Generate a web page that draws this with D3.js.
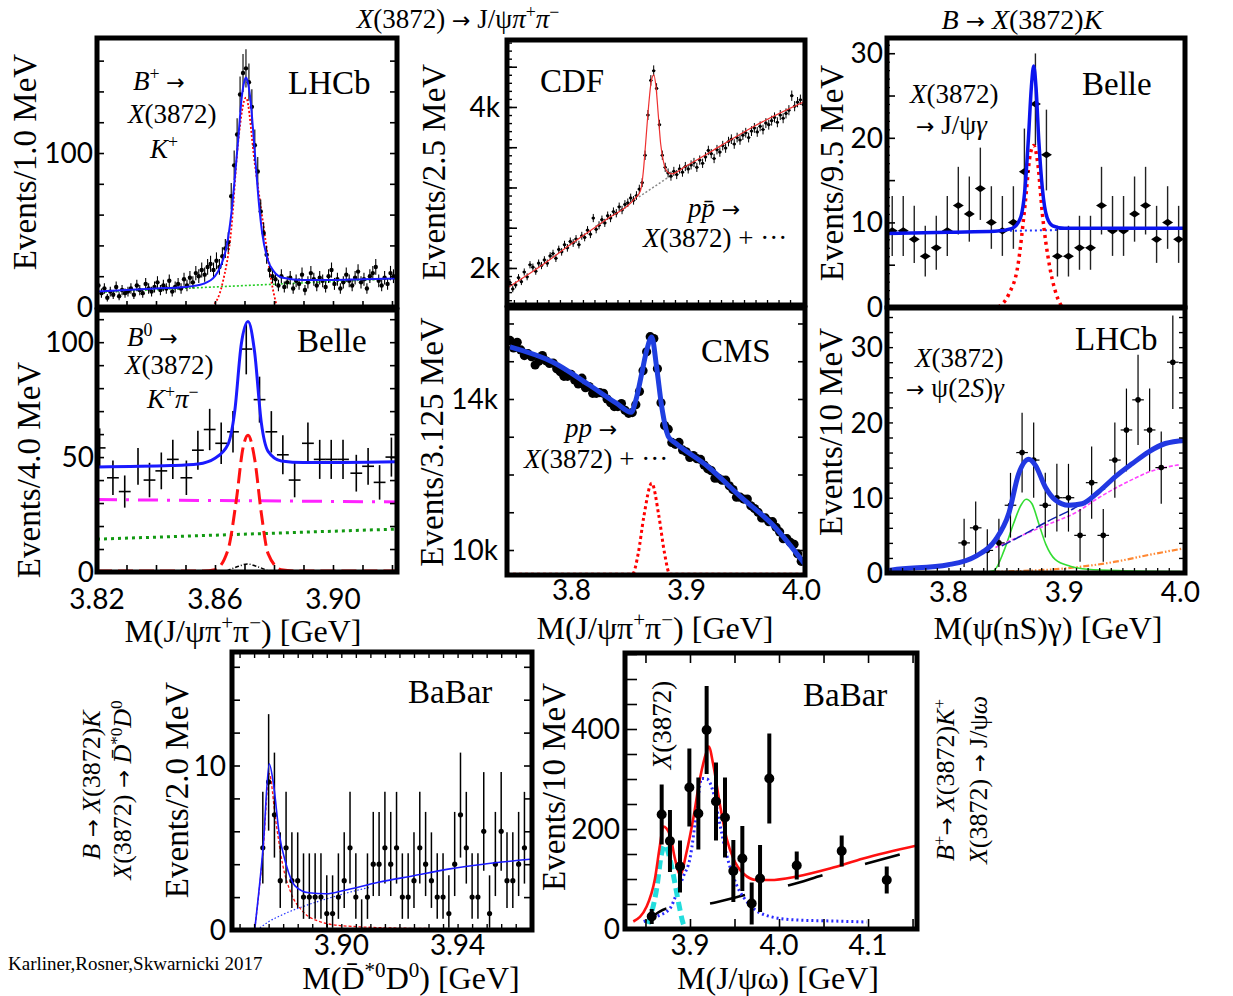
<!DOCTYPE html>
<html lang="en">
<head>
<meta charset="utf-8">
<title>X(3872) signals</title>
<script src="https://d3js.org/d3.v7.min.js"></script>
<style>
  body { margin: 0; background: #fff; }
  .serif { font-family: "Liberation Serif", "Times New Roman", serif; white-space: pre; }
  .tl { font-family: Lato, "Noto Sans", sans-serif; font-size: 28px; }
</style>
</head>
<body>
<script>
// ---------------- data ----------------

// LHCb, B+ -> X(3872) K+, 1 MeV bins
var lhcbStart = 3.8205, lhcbWidth = 0.001;
var lhcbCounts = [14, 9, 12, 6, 10, 8, 13, 7, 11, 9,
  10, 12, 8, 14, 11, 9, 15, 12, 10, 13,
  16, 11, 14, 12, 17, 10, 13, 15, 12, 18,
  14, 19, 16, 22, 20, 24, 21, 26, 28, 24,
  30, 26, 33, 38, 42, 72, 92, 112, 138, 152,
  155, 146, 130, 105, 88, 62, 48, 34, 24, 20,
  18, 14, 20, 13, 16, 19, 12, 17, 15, 21,
  11, 16, 22, 18, 14, 19, 17, 13, 20, 24,
  15, 18, 12, 16, 21, 17, 14, 19, 23, 16,
  18, 12, 20, 22, 26, 17, 14, 19, 15, 22, 20];
var lhcbFit = [[3.820,10],[3.830,11],[3.840,12],[3.850,13],[3.856,15],[3.860,20],[3.862,27],[3.864,40],[3.8655,60],
  [3.867,90],[3.868,112],[3.869,135],[3.870,147],[3.8705,149],[3.871,147],[3.872,135],[3.873,113],[3.874,88],
  [3.875,65],[3.876,48],[3.878,30],[3.880,23],[3.883,19],[3.890,17.5],[3.900,17.5],[3.910,18],[3.922,18.5]];
var lhcbSignal = [[3.859,0],[3.8625,15],[3.8655,50],[3.8678,106],[3.8705,136],[3.8735,93],[3.877,45],[3.879,18],[3.881,0]];
var lhcbBkg = [[3.82,9.5],[3.922,18.5]];

// Belle, B0 -> X(3872) K+ pi-, 4 MeV bins
var belle0Mass = [3.8209,3.8254,3.8294,3.8339,3.8378,3.8418,3.8457,3.8503,3.8542,3.8582,3.8621,3.8661,3.8706,
  3.8751,3.8791,3.8830,3.8870,3.8915,3.8955,3.8994,3.9034,3.9079,3.9119,3.9158,3.9198];
var belle0Counts = [54, 41, 35, 46, 40, 44, 49, 41, 53, 62, 56, 61, 97, 75, 61, 51, 40, 56, 49, 49, 49, 43, 46, 39, 50];
var belle0Err = [8.5, 7.5, 7, 8, 7.5, 8, 8.5, 7.5, 8.5, 9, 9, 9, 11, 10, 9, 8.5, 7.5, 9, 8.5, 8.5, 8.5, 8, 8, 7.5, 8.5];
var belle0Fit = [[3.82,45.7],[3.845,46.3],[3.8542,47],[3.860,49.5],[3.8644,55.5],[3.8667,70],[3.8689,99],[3.8712,109],
  [3.8734,96],[3.8757,65],[3.878,52.5],[3.8825,48.3],[3.89,47.6],[3.922,48]];
var belle0Signal = [[3.82,0.4],[3.856,0.4],[3.860,1],[3.8644,9.6],[3.8672,31],[3.8695,54],[3.8712,59.5],[3.8735,48.7],
  [3.8757,25.6],[3.878,8],[3.8825,1],[3.888,0.4],[3.922,0.4]];
var belle0Comb = [[3.82,31.5],[3.922,30.5]];
var belle0Lin = [[3.82,14.3],[3.922,18.7]];
var belle0Peak = [[3.864,0.5],[3.868,2.5],[3.871,3.5],[3.874,2.5],[3.878,0.5]];

// CDF, p pbar -> X(3872) + ..., 2.5 MeV bins
var cdfStart = 3.7465, cdfWidth = 0.0025;
var cdfCounts = [1820,1740,1790,1880,1830,1950,1890,2040,2010,1960,2060,2030,2100,2060,2150,2180,2120,2230,2200,2290,2250,2330,
  2310,2360,2290,2400,2380,2470,2420,2620,2480,2530,2600,2560,2650,2620,2700,2680,2760,2720,2790,
  2810,2870,2840,2900,2980,3060,
  3400,3900,4330,4450,4230,3780,3400,3250,3180,
  3140,3200,3160,3230,3190,3260,3230,3280,3310,3250,3340,3300,3380,3460,3420,3360,3470,3440,3520,3490,
  3570,3600,3540,3620,3590,3650,3680,3620,3700,3740,3690,3760,3720,3800,3780,3830,3870,3810,3900,3860,
  3920,3960,4140,4010,4060,4090,4030];
var cdfFit = [[3.744,1750],[3.775,2040],[3.80,2300],[3.83,2600],[3.855,2860],[3.860,2960],[3.8625,3200],[3.8645,3550],
  [3.867,4000],[3.8695,4330],[3.8716,4400],[3.8735,4250],[3.8755,3900],[3.8775,3550],[3.880,3320],[3.883,3200],
  [3.887,3170],[3.90,3270],[3.93,3520],[3.96,3770],[4.003,4070]];
var cdfBkg = [[3.8586,2882],[3.8872,3155]];

// CMS, pp -> X(3872) + ..., 3.125 MeV bins
var cmsStart = 3.7466, cmsWidth = 0.003125;
var cmsCounts = [15550, 15350, 15500, 15300, 15150, 15200, 15120, 14900, 15000, 15150,
  15010, 14940, 14950, 14800, 14720, 14600, 14600, 14650, 14500, 14400,
  14550, 14300, 14330, 14150, 14150, 14170, 14150, 14000, 13900, 13800,
  13800, 13880, 13700, 13620, 13640, 13850, 14200, 14750, 15250, 15650,
  15600, 14800, 13900, 13300, 13200, 12850, 12800, 12850, 12650, 12600,
  12450, 12500, 12420, 12400, 12250, 12150, 12100, 11900, 11900, 11850,
  11850, 11700, 11600, 11400, 11400, 11350, 11350, 11170, 11100, 11000,
  10850, 10850, 10750, 10750, 10600, 10480, 10300, 10300, 10200, 10150,
  9900, 9700];
var cmsFit = [[3.7466,15380],[3.7836,14980],[3.8155,14370],[3.839,13890],[3.852,13650],[3.856,13970],[3.8612,14690],
  [3.8655,15300],[3.8698,15640],[3.874,14850],[3.8785,13790],[3.8845,12990],[3.8905,12830],[3.919,12200],
  [3.9474,11400],[3.9767,10610],[4.003,9620]];
var cmsSignal = [[3.744,9360],[3.853,9360],[3.858,9900],[3.863,10900],[3.8698,11770],[3.876,10900],[3.881,9900],[3.8855,9360],[4.003,9360]];

// Belle, X(3872) -> J/psi gamma, 9.5 MeV bins
var belleGStart = 3.7515, belleGWidth = 0.0095;
var belleGCounts = [9, 9, 8, 6, 7, 9, 12, 11, 14, 10, 9, 10, 16, 24, 18, 6, 6, 7, 7, 12, 9, 9, 11, 12, 8, 10, 8];
var belleGFit = [[3.747,8.7],[3.80,8.85],[3.84,8.95],[3.855,9.3],[3.862,10.5],[3.866,14],[3.869,20],[3.8715,26],
  [3.8735,28.5],[3.8755,26],[3.878,19.5],[3.881,14],[3.885,10.6],[3.89,9.6],[3.90,9.3],[4.004,9.3]];
var belleGBkg = [[3.853,9.0],[3.895,9.1]];
var belleGSignal = [[3.843,0],[3.852,1.5],[3.860,5],[3.866,12],[3.8705,18],[3.8735,19.1],[3.877,17],[3.881,11],
  [3.887,5],[3.893,1.5],[3.898,0]];

// LHCb, X(3872) -> psi(2S) gamma, 10 MeV bins
var lhcbGStart = 3.8135, lhcbGWidth = 0.010;
var lhcbGCounts = [4, 6, 3, 4, 9, 16, 15, 9, 10, 10, 5, 12, 5, 15, 19, 23, 19, 14, 28];
var lhcbGErr = [3.2, 3.5, 2.8, 3.2, 4.3, 5.3, 5.0, 4.3, 4.5, 4.5, 3.5, 4.8, 3.5, 5.0, 5.5, 6.0, 5.5, 4.8, 6.2];
var lhcbGFit = [[3.747,0.3],[3.7515,0.4],[3.80,1.1],[3.8233,2.2],[3.8405,4.4],[3.852,7.9],[3.8606,13.2],[3.8693,15.1],
  [3.875,14.3],[3.8836,11.4],[3.8922,9.7],[3.9037,9.0],[3.9152,9.2],[3.9296,10.8],[3.944,12.8],[3.9583,14.5],
  [3.9727,16.1],[3.987,17.2],[4.004,17.6]];
var lhcbGTot = [[3.846,3.6],[3.866,5.2],[3.886,6.9],[3.906,8.4],[3.924,10.0],[3.935,11.2]];
var lhcbGBkg = [[3.8405,3.4],[3.8636,5.0],[3.8865,6.5],[3.9095,8.0],[3.9296,10.0],[3.9583,12.4],[3.9727,13.4],[4.0,14.4]];
var lhcbGSignal = [[3.747,0.1],[3.83,0.1],[3.839,0.3],[3.848,3],[3.856,6.5],[3.8625,9.0],[3.867,9.8],[3.872,9.2],
  [3.878,6.5],[3.884,3.8],[3.892,1.8],[3.905,0.9],[3.92,0.5],[3.95,0.3],[4.0,0.2]];
var lhcbGRefl = [[3.80,0.05],[3.85,0.2],[3.90,0.6],[3.944,1.5],[3.9727,2.4],[4.004,3.3]];

// BaBar, X(3872) -> D*0 D0bar, 2 MeV bins
var babarDStart = 3.873, babarDWidth = 0.002;
var babarDCounts = [5, 9, 7, 3, 5, 3, 3, 2, 2, 2, 2, 1, 1, 2, 3, 5, 2, 0, 2, 4, 4, 5, 4, 5, 2, 2, 3, 5, 4, 3,
  2, 2, 1, 4, 7, 5, 2, 2, 6, 1, 4, 6, 3, 3, 4, 5];
var babarDFit = [[3.8702,0],[3.8732,5.25],[3.8752,10.1],[3.8768,8.7],[3.8786,5.9],[3.881,4.0],[3.884,2.7],[3.8888,2.26],
  [3.8948,2.2],[3.9008,2.4],[3.9128,2.9],[3.9248,3.3],[3.9368,3.7],[3.9488,4.0],[3.965,4.3]];
var babarDSignal = [[3.8702,0],[3.8732,5.05],[3.8752,9.5],[3.8774,6.7],[3.8798,4.0],[3.8828,2.2],[3.8864,1.2],
  [3.8912,0.6],[3.9008,0.25],[3.9248,0.1],[3.965,0.05]];
var babarDBkg = [[3.871,0],[3.875,0.5],[3.880,0.95],[3.888,1.5],[3.896,1.95],[3.904,2.35],[3.91,2.6]];

// BaBar, X(3872) -> J/psi omega
var babarWMass = [3.857, 3.8682, 3.8775, 3.8888, 3.8993, 3.9094, 3.9187, 3.9292, 3.9393, 3.9487, 3.9588, 3.9693,
  3.9787, 3.9891, 4.0199, 4.0704, 4.121];
var babarWCounts = [25, 229, 176, 125, 283, 231, 398, 255, 223, 116, 141, 51, 101, 301, 127, 156, 98];
var babarWErr = [15, 60, 62, 52, 78, 72, 88, 78, 80, 62, 65, 42, 67, 90, 28, 31, 27];
var babarWFit = [[3.8363,15],[3.8513,45],[3.8607,101],[3.8663,168],[3.870,205],[3.8775,188],[3.8831,141],[3.8888,108],
  [3.8963,155],[3.9037,221],[3.9112,301],[3.9187,355],[3.921,365],[3.9262,328],[3.9337,248],[3.9412,181],
  [3.9487,141],[3.9599,111],[3.975,98],[3.9899,98],[4.0199,105],[4.0573,121],[4.0947,141],[4.155,167]];
var babarWX = [[3.853,10],[3.8625,80],[3.868,150],[3.8718,168],[3.8775,140],[3.8813,108],[3.8869,55],[3.8925,10],[3.895,0]];
var babarWY = [[3.848,15],[3.8625,25],[3.8775,41],[3.885,71],[3.8925,105],[3.90,141],[3.9075,235],[3.913,301],
  [3.919,300],[3.927,268],[3.9337,208],[3.9412,148],[3.9524,88],[3.9674,48],[3.9899,25],[4.0199,18],[4.06,16],[4.0984,14]];
var babarWBkg = [[3.851,15],[3.8738,41],[3.9225,51],[3.9637,69],[4.0124,88],[4.0517,109],[4.0985,131],[4.1397,151]];

// tick labels
var ticksP1Y = [[0,"0"],[100,"100"]];
var ticksP2Y = [[0,"0"],[50,"50"],[100,"100"]];
var ticksP2X = [[3.82,"3.82"],[3.86,"3.86"],[3.90,"3.90"]];
var ticksP3Y = [[2000,"2k"],[4000,"4k"]];
var ticksP4Y = [[10000,"10k"],[14000,"14k"]];
var ticksP4X = [[3.8,"3.8"],[3.9,"3.9"],[4.0,"4.0"]];
var ticksP5Y = [[0,"0"],[10,"10"],[20,"20"],[30,"30"]];
var ticksP6Y = [[0,"0"],[10,"10"],[20,"20"],[30,"30"]];
var ticksP6X = [[3.8,"3.8"],[3.9,"3.9"],[4.0,"4.0"]];
var ticksP7Y = [[0,"0"],[10,"10"]];
var ticksP7X = [[3.90,"3.90"],[3.94,"3.94"]];
var ticksP8Y = [[0,"0"],[200,"200"],[400,"400"]];
var ticksP8X = [[3.9,"3.9"],[4.0,"4.0"],[4.1,"4.1"]];

// ---------------- drawing ----------------
var svg = d3.select("body").append("svg").attr("width", 1233).attr("height", 996);

function makePanel(id, xDom, xRange, yDom, yRange) {
  var p = {
    x: d3.scaleLinear().domain(xDom).range(xRange),
    y: d3.scaleLinear().domain(yDom).range(yRange),
    x0: xRange[0], x1: xRange[1], y0: yRange[0], y1: yRange[1]
  };
  p.g = svg.append("g");
  svg.append("clipPath").attr("id", "clip-" + id).append("rect")
    .attr("x", p.x0).attr("y", p.y1).attr("width", p.x1 - p.x0).attr("height", p.y0 - p.y1);
  p.plot = p.g.append("g").attr("clip-path", "url(#clip-" + id + ")");
  return p;
}

function curve(p, pts, color, width, dash, offset) {
  p.plot.append("path").datum(pts)
    .attr("d", d3.line().x(function(d) { return p.x(d[0]); }).y(function(d) { return p.y(d[1]); }).curve(d3.curveMonotoneX))
    .attr("fill", "none").attr("stroke", color).attr("stroke-width", width)
    .attr("stroke-dasharray", dash || null).attr("stroke-dashoffset", offset || null)
    .attr("stroke-linejoin", "round");
}

function points(p, pts, o) {
  var gp = p.plot.append("g");
  gp.selectAll("line.ev").data(pts).join("line").attr("class", "ev")
    .attr("x1", function(d) { return p.x(d.m); }).attr("x2", function(d) { return p.x(d.m); })
    .attr("y1", function(d) { return p.y(d.v - d.lo); }).attr("y2", function(d) { return p.y(d.v + d.hi); })
    .attr("stroke", o.ec || "#000").attr("stroke-width", o.ew || 1);
  if (o.hw) {
    gp.selectAll("line.eh").data(pts).join("line").attr("class", "eh")
      .attr("x1", function(d) { return p.x(d.m - o.hw); }).attr("x2", function(d) { return p.x(d.m + o.hw); })
      .attr("y1", function(d) { return p.y(d.v); }).attr("y2", function(d) { return p.y(d.v); })
      .attr("stroke", o.ec || "#000").attr("stroke-width", o.ew || 1);
  }
  if (o.diamond) {
    gp.selectAll("path.mk").data(pts).join("path").attr("class", "mk")
      .attr("d", "M-5.5,0L0,-3.6L5.5,0L0,3.6Z")
      .attr("transform", function(d) { return "translate(" + p.x(d.m) + "," + p.y(d.v) + ")"; })
      .attr("fill", "#000");
  } else if (o.r) {
    gp.selectAll("circle.mk").data(pts).join("circle").attr("class", "mk")
      .attr("cx", function(d) { return p.x(d.m); }).attr("cy", function(d) { return p.y(d.v); })
      .attr("r", o.r).attr("fill", "#000");
  }
}

function ticks(p, side, vals, len, w) {
  var ax, tr;
  if (side === "left") { ax = d3.axisLeft(p.y); tr = "translate(" + p.x0 + ",0)"; }
  if (side === "right") { ax = d3.axisRight(p.y); tr = "translate(" + p.x1 + ",0)"; }
  if (side === "bottom") { ax = d3.axisBottom(p.x); tr = "translate(0," + p.y0 + ")"; }
  if (side === "top") { ax = d3.axisTop(p.x); tr = "translate(0," + p.y1 + ")"; }
  p.g.append("g").attr("transform", tr)
    .call(ax.tickValues(vals).tickSize(-len).tickFormat(""))
    .call(function(a) {
      a.select(".domain").remove();
      a.selectAll("line").attr("stroke", "#000").attr("stroke-width", w || 1.6);
    });
}

function frame(p, w) {
  p.g.append("rect").attr("x", p.x0).attr("y", p.y1)
    .attr("width", p.x1 - p.x0).attr("height", p.y0 - p.y1)
    .attr("fill", "none").attr("stroke", "#000").attr("stroke-width", w || 5);
}

function yLabels(p, labels, gap) {
  labels.forEach(function(l) {
    svg.append("text").attr("class", "tl").attr("x", p.x0 - gap).attr("y", p.y(l[0]))
      .attr("dy", "0.36em").attr("text-anchor", "end").text(l[1]);
  });
}

function xLabels(p, labels, base) {
  labels.forEach(function(l) {
    svg.append("text").attr("class", "tl").attr("x", p.x(l[0])).attr("y", base)
      .attr("text-anchor", "middle").text(l[1]);
  });
}

// rich text: parts are strings or {t, i (italic), s (superscript)}; arrows get a wider glyph
function rich(x, y, parts, size, anchor, rot) {
  var t = svg.append("text").attr("class", "serif").attr("font-size", size)
    .attr("text-anchor", anchor || "start");
  if (rot) t.attr("transform", "translate(" + x + "," + y + ") rotate(-90)");
  else t.attr("x", x).attr("y", y);
  var shift = 0;
  parts.forEach(function(q) {
    var s = (typeof q === "string") ? { t: q } : q;
    var pieces = s.t.split(/(\u2192)/).filter(function(c) { return c.length; });
    pieces.forEach(function(piece) {
      var ts = t.append("tspan").text(piece);
      var target = s.s ? -0.36 * size : 0;
      if (target !== shift) { ts.attr("dy", target - shift); shift = target; }
      if (s.s) ts.attr("font-size", size * 0.66);
      if (s.i) ts.attr("font-style", "italic");
      if (piece === "\u2192") ts.attr("font-family", "DejaVu Sans").attr("font-size", size * 0.82);
    });
  });
  return t;
}

function bins(start, width, counts) {
  return counts.map(function(v, i) {
    return { m: start + i * width, v: v, lo: Math.sqrt(v), hi: Math.sqrt(v) };
  });
}
function poissonBins(start, width, counts) {
  return counts.map(function(v, i) {
    return { m: start + i * width, v: v, lo: Math.sqrt(Math.max(v - 0.25, 0)), hi: Math.sqrt(v + 0.75) + 1 };
  });
}
function listed(mass, counts, errs) {
  return counts.map(function(v, i) { return { m: mass[i], v: v, lo: errs[i], hi: errs[i] }; });
}
function inDom(p, vals) {
  var d = p.x.domain();
  return vals.filter(function(v) { return v >= d[0] - 1e-9 && v <= d[1] + 1e-9; });
}

var X3872 = [{ t: "X", i: 1 }, "(3872)"];
var DOTS = "\u00b7\u00b7\u00b7";

// ---- panel 1: LHCb B+ ----
var p1 = makePanel("p1", [3.82, 3.9217], [97, 397], [0, 174.7], [307, 38]);
curve(p1, lhcbBkg, "#22cc22", 1.6, "2,2");
curve(p1, lhcbSignal, "#ff0000", 1.8, "2,2");
points(p1, bins(lhcbStart, lhcbWidth, lhcbCounts), { r: 2.2, ew: 1.1, hw: 0.0005 });
curve(p1, lhcbFit, "#1a1aff", 2);
ticks(p1, "left", d3.range(0, 175, 20), 7);
ticks(p1, "right", d3.range(0, 175, 20), 7);
ticks(p1, "bottom", inDom(p1, d3.range(3.82, 3.925, 0.01)), 6);
frame(p1);
yLabels(p1, ticksP1Y, 4);
svg.append("text").attr("class", "serif").attr("x", 288).attr("y", 94).attr("font-size", 33).text("LHCb");
rich(133, 90, [{ t: "B", i: 1 }, { t: "+", s: 1 }, " \u2192"], 27);
rich(128, 123, X3872, 27);
rich(150, 158, [{ t: "K", i: 1 }, { t: "+", s: 1 }], 27);

// ---- panel 2: Belle B0 ----
var p2 = makePanel("p2", [3.82, 3.9217], [97, 397], [0, 114], [572, 310]);
curve(p2, belle0Lin, "#119911", 3, "3,4");
curve(p2, belle0Comb, "#ff22ff", 3, "20,9,3,9");
curve(p2, belle0Peak, "#000", 1.5, "4,2,1,2");
curve(p2, belle0Signal, "#ff1111", 3, "15,6");
points(p2, listed(belle0Mass, belle0Counts, belle0Err), { ew: 1.6, hw: 0.002 });
curve(p2, belle0Fit, "#1a1aff", 3);
ticks(p2, "left", d3.range(0, 114, 10), 7);
ticks(p2, "right", d3.range(0, 114, 10), 7);
ticks(p2, "bottom", inDom(p2, d3.range(3.82, 3.925, 0.01)), 7);
frame(p2);
yLabels(p2, ticksP2Y, 3);
xLabels(p2, ticksP2X, 609);
svg.append("text").attr("class", "serif").attr("x", 297).attr("y", 352).attr("font-size", 33).text("Belle");
rich(127, 346, [{ t: "B", i: 1 }, { t: "0", s: 1 }, " \u2192"], 27);
rich(125, 374, X3872, 27);
rich(147, 408, [{ t: "K", i: 1 }, { t: "+", s: 1 }, { t: "\u03c0", i: 1 }, { t: "\u2212", s: 1 }], 27);
rich(243, 642, ["M(J/\u03c8\u03c0", { t: "+", s: 1 }, "\u03c0", { t: "\u2212", s: 1 }, ") [GeV]"], 32, "middle");
rich(36, 162, ["Events/1.0 MeV"], 33, "middle", true);
rich(40, 470, ["Events/4.0 MeV"], 33, "middle", true);

// ---- panel 3: CDF ----
var p3 = makePanel("p3", [3.744, 4.003], [507, 805], [1540, 4832], [305, 40]);
curve(p3, cdfBkg, "#888", 1.5, "2,2");
points(p3, bins(cdfStart, cdfWidth, cdfCounts), { r: 1.6, ew: 1, hw: 0.0015 });
curve(p3, cdfFit, "#ee3030", 1.2);
ticks(p3, "left", d3.range(1600, 4832, 100), 5, 1.4);
ticks(p3, "left", d3.range(2000, 4832, 500), 10, 1.6);
ticks(p3, "bottom", inDom(p3, d3.range(3.75, 4.0, 0.01)), 5, 1.3);
frame(p3);
yLabels(p3, ticksP3Y, 7);
svg.append("text").attr("class", "serif").attr("x", 540).attr("y", 92).attr("font-size", 33).text("CDF");
rich(688, 217, [{ t: "p", i: 1 }, { t: "p\u0304", i: 1 }, " \u2192"], 27);
rich(643, 247, [{ t: "X", i: 1 }, "(3872) + " + DOTS], 27);
rich(445, 172, ["Events/2.5 MeV"], 33, "middle", true);
rich(458, 28, [{ t: "X", i: 1 }, "(3872) \u2192 J/\u03c8", { t: "\u03c0", i: 1 }, { t: "+", s: 1 }, { t: "\u03c0", i: 1 }, { t: "\u2212", s: 1 }], 27, "middle");

// ---- panel 4: CMS ----
var p4 = makePanel("p4", [3.744, 4.003], [507, 805], [9338, 16410], [575, 308]);
curve(p4, cmsSignal, "#ff0000", 3, "3,3");
points(p4, cmsCounts.map(function(v, i) { return { m: cmsStart + i * cmsWidth, v: v, lo: 0, hi: 0 }; }), { r: 4.6, ew: 0 });
curve(p4, cmsFit, "#1f3fe0", 5);
ticks(p4, "left", d3.range(10000, 16410, 1000), 7);
ticks(p4, "right", d3.range(10000, 16410, 1000), 7);
frame(p4);
yLabels(p4, ticksP4Y, 9);
xLabels(p4, ticksP4X, 600);
svg.append("text").attr("class", "serif").attr("x", 701).attr("y", 362).attr("font-size", 33).text("CMS");
rich(565, 437, [{ t: "pp", i: 1 }, " \u2192"], 27);
rich(524, 468, [{ t: "X", i: 1 }, "(3872) + " + DOTS], 27);
rich(655, 639, ["M(J/\u03c8\u03c0", { t: "+", s: 1 }, "\u03c0", { t: "\u2212", s: 1 }, ") [GeV]"], 32, "middle");
rich(443, 442, ["Events/3.125 MeV"], 33, "middle", true);

// ---- panel 5: Belle J/psi gamma ----
var p5 = makePanel("p5", [3.747, 4.004], [887, 1185], [0, 31.8], [307, 38]);
curve(p5, belleGBkg, "#2233ff", 2, "2,3");
curve(p5, belleGSignal, "#ff0000", 3.5, "3,4");
points(p5, poissonBins(belleGStart, belleGWidth, belleGCounts), { diamond: 1, ew: 1.4, ec: "#222" });
curve(p5, belleGFit, "#0a14ee", 3.5);
ticks(p5, "left", d3.range(0, 32, 1), 3, 1.2);
ticks(p5, "left", d3.range(0, 32, 5), 8);
frame(p5);
yLabels(p5, ticksP5Y, 4);
svg.append("text").attr("class", "serif").attr("x", 1082).attr("y", 95).attr("font-size", 33).text("Belle");
rich(910, 103, X3872, 27);
rich(916, 134, ["\u2192 J/\u03c8", { t: "\u03b3", i: 1 }], 27);
rich(843, 173, ["Events/9.5 MeV"], 33, "middle", true);
rich(1022, 29, [{ t: "B", i: 1 }, " \u2192 ", { t: "X", i: 1 }, "(3872)", { t: "K", i: 1 }], 28, "middle");

// ---- panel 6: LHCb psi(2S) gamma ----
var p6 = makePanel("p6", [3.747, 4.004], [887, 1185], [0, 35.2], [573, 308]);
curve(p6, lhcbGRefl, "#ff8833", 2.2, "6,2,1.5,2,1.5,2");
curve(p6, lhcbGSignal, "#33dd33", 1.6);
curve(p6, lhcbGBkg, "#ff44ff", 1.6, "4,2");
curve(p6, lhcbGTot, "#1020b0", 1.5, "10,3");
points(p6, listed(lhcbGCounts.map(function(v, i) { return lhcbGStart + i * lhcbGWidth; }), lhcbGCounts, lhcbGErr), { r: 2.8, ew: 1.2, hw: 0.005 });
curve(p6, lhcbGFit, "#2238e2", 5);
ticks(p6, "left", d3.range(0, 35.2, 2), 6, 1.4);
ticks(p6, "right", d3.range(0, 35.2, 2), 6, 1.4);
ticks(p6, "bottom", inDom(p6, d3.range(3.75, 4.0, 0.01)), 5, 1.3);
frame(p6);
yLabels(p6, ticksP6Y, 4);
xLabels(p6, ticksP6X, 602);
svg.append("text").attr("class", "serif").attr("x", 1075).attr("y", 350).attr("font-size", 33).text("LHCb");
rich(915, 367, X3872, 27);
rich(906, 397, ["\u2192 \u03c8(2", { t: "S", i: 1 }, ")", { t: "\u03b3", i: 1 }], 27);
rich(1048, 639, ["M(\u03c8(nS)\u03b3) [GeV]"], 32, "middle");
rich(842, 432, ["Events/10 MeV"], 33, "middle", true);

// ---- panel 7: BaBar D*0 D0bar ----
var p7 = makePanel("p7", [3.8624, 3.9656], [232, 532], [0, 16.9], [930, 652]);
curve(p7, babarDBkg, "#2233ff", 1.2, "1.5,2");
curve(p7, babarDSignal, "#ff1111", 1.3, "3,2");
points(p7, poissonBins(babarDStart, babarDWidth, babarDCounts), { r: 2.6, ew: 1.5 });
curve(p7, babarDFit, "#1a1aff", 1.6);
ticks(p7, "left", d3.range(0, 16.9, 2), 8);
ticks(p7, "right", d3.range(0, 16.9, 2), 8);
ticks(p7, "bottom", inDom(p7, d3.range(3.865, 3.966, 0.005)), 6, 1.4);
ticks(p7, "top", inDom(p7, d3.range(3.865, 3.966, 0.005)), 6, 1.4);
frame(p7);
yLabels(p7, ticksP7Y, 6);
xLabels(p7, ticksP7X, 955);
svg.append("text").attr("class", "serif").attr("x", 408).attr("y", 703).attr("font-size", 33).text("BaBar");
rich(411, 989, ["M(D\u0304", { t: "*0", s: 1 }, "D", { t: "0", s: 1 }, ") [GeV]"], 32, "middle");
rich(188, 790, ["Events/2.0 MeV"], 33, "middle", true);
rich(100, 785, [{ t: "B", i: 1 }, " \u2192 ", { t: "X", i: 1 }, "(3872)", { t: "K", i: 1 }], 26, "middle", true);
rich(131, 790, [{ t: "X", i: 1 }, "(3872) \u2192 ", { t: "D\u0304", i: 1 }, { t: "*0", s: 1 }, { t: "D", i: 1 }, { t: "0", s: 1 }], 26, "middle", true);
svg.append("text").attr("class", "serif").attr("x", 8).attr("y", 970).attr("font-size", 19)
  .text("Karliner,Rosner,Skwarnicki 2017");

// ---- panel 8: BaBar J/psi omega ----
var p8 = makePanel("p8", [3.827, 4.155], [625, 917], [0, 552], [929, 653]);
curve(p8, babarWBkg, "#000", 2.6, "36,44", 12);
curve(p8, babarWY, "#2a2aff", 3, "2,3");
curve(p8, babarWX, "#22dddd", 5, "9,5");
curve(p8, babarWFit, "#ff1111", 2.6);
points(p8, listed(babarWMass, babarWCounts, babarWErr), { r: 5, ew: 4 });
ticks(p8, "left", d3.range(0, 552, 50), 12);
ticks(p8, "bottom", inDom(p8, d3.range(3.85, 4.16, 0.05)), 10);
ticks(p8, "top", inDom(p8, d3.range(3.85, 4.16, 0.05)), 10);
frame(p8);
yLabels(p8, ticksP8Y, 5);
xLabels(p8, ticksP8X, 955);
svg.append("text").attr("class", "serif").attr("x", 803).attr("y", 706).attr("font-size", 33).text("BaBar");
rich(671, 725, X3872, 27, "middle", true);
rich(778, 989, ["M(J/\u03c8\u03c9) [GeV]"], 32, "middle");
rich(565, 787, ["Events/10 MeV"], 33, "middle", true);
rich(954, 780, [{ t: "B", i: 1 }, { t: "+", s: 1 }, "\u2192 ", { t: "X", i: 1 }, "(3872)", { t: "K", i: 1 }, { t: "+", s: 1 }], 26, "middle", true);
rich(987, 780, [{ t: "X", i: 1 }, "(3872) \u2192 J/\u03c8", { t: "\u03c9", i: 1 }], 26, "middle", true);
</script>
</body>
</html>
